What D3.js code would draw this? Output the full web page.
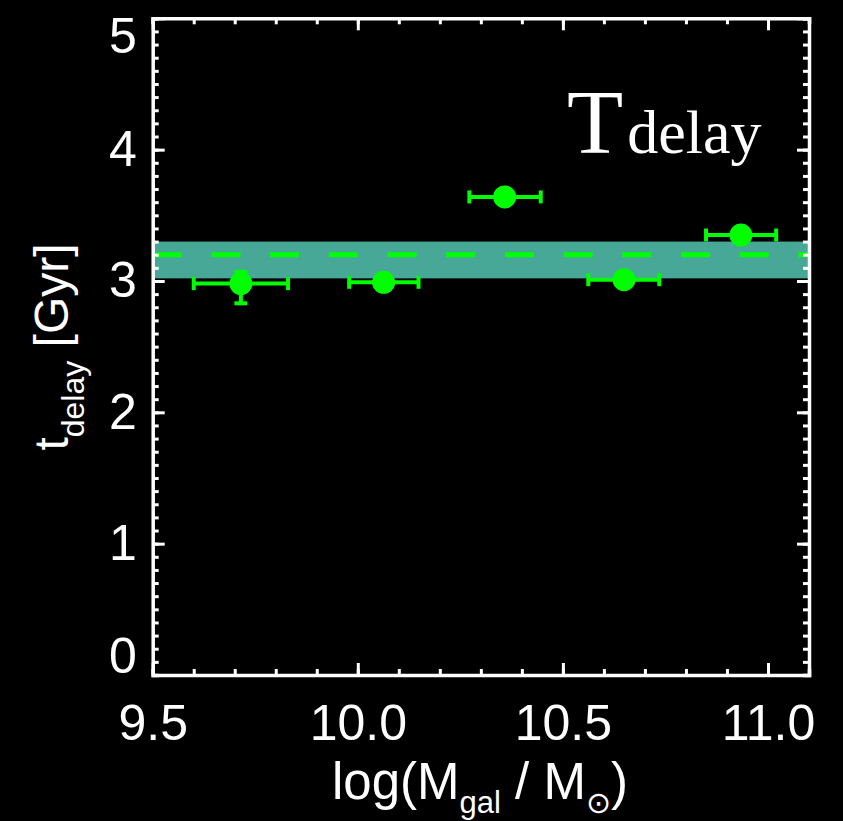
<!DOCTYPE html>
<html>
<head>
<meta charset="utf-8">
<script src="https://cdn.jsdelivr.net/npm/d3@7"></script>
<style>
  body { margin: 0; background: #000; }
  svg { display: block; background: #000; }
  .axis path, .axis line { stroke: #fff; }
  .axis text { fill: #fff; font-family: "Liberation Sans", Arial, sans-serif; font-size: 50px; }
</style>
</head>
<body>
<svg width="843" height="821"></svg>
<script>
/* values */
var mass     = [9.715, 10.063, 10.358, 10.649, 10.934];
var massLo   = [9.600, 9.979, 10.272, 10.562, 10.849];
var massHi   = [9.830, 10.148, 10.446, 10.735, 11.020];
var tdelay   = [2.98, 2.99, 3.64, 3.01, 3.35];
var tLo      = [2.83, 2.95, 3.60, 2.97, 3.31];
var tHi      = [3.07, 3.03, 3.68, 3.05, 3.39];
var bandLo = 3.02, bandHi = 3.30, bandMean = 3.20;
var xTicks = [9.5, 10.0, 10.5, 11.0];
var yTicks = [0, 1, 2, 3, 4, 5];

var svg = d3.select("svg"),
    margin = {top: 18.3, right: 34, bottom: 146, left: 152.7},
    width = +svg.attr("width") - margin.left - margin.right,
    height = +svg.attr("height") - margin.top - margin.bottom;

var x = d3.scaleLinear().domain([9.5, 11.1]).range([0, width]),
    y = d3.scaleLinear().domain([0, 5]).range([height, 0]);

var g = svg.append("g")
    .attr("transform", "translate(" + margin.left + "," + margin.top + ")");

var green = "#00ff00";

/* shaded band + dashed mean line */
g.append("rect")
    .attr("x", 0).attr("width", width)
    .attr("y", y(bandHi)).attr("height", y(bandLo) - y(bandHi))
    .attr("fill", "#47a898");

g.append("line")
    .attr("x1", 0).attr("x2", width)
    .attr("y1", y(bandMean)).attr("y2", y(bandMean))
    .attr("stroke", green).attr("stroke-width", 5)
    .attr("stroke-dasharray", "29,29.7");

/* error bars and points */
var pts = mass.map(function(m, i) {
  return {x: m, lo: massLo[i], hi: massHi[i], y: tdelay[i], ylo: tLo[i], yhi: tHi[i]};
});

var pg = g.selectAll(".pt").data(pts).enter().append("g").attr("class", "pt");
var cap = 6.5;

pg.append("line")
    .attr("x1", function(d) { return x(d.lo); }).attr("x2", function(d) { return x(d.hi); })
    .attr("y1", function(d) { return y(d.y); }).attr("y2", function(d) { return y(d.y); });
pg.append("line")
    .attr("x1", function(d) { return x(d.lo); }).attr("x2", function(d) { return x(d.lo); })
    .attr("y1", function(d) { return y(d.y) - cap; }).attr("y2", function(d) { return y(d.y) + cap; });
pg.append("line")
    .attr("x1", function(d) { return x(d.hi); }).attr("x2", function(d) { return x(d.hi); })
    .attr("y1", function(d) { return y(d.y) - cap; }).attr("y2", function(d) { return y(d.y) + cap; });
pg.append("line")
    .attr("x1", function(d) { return x(d.x); }).attr("x2", function(d) { return x(d.x); })
    .attr("y1", function(d) { return y(d.ylo); }).attr("y2", function(d) { return y(d.yhi); });
pg.append("line")
    .attr("x1", function(d) { return x(d.x) - cap; }).attr("x2", function(d) { return x(d.x) + cap; })
    .attr("y1", function(d) { return y(d.ylo); }).attr("y2", function(d) { return y(d.ylo); });
pg.append("line")
    .attr("x1", function(d) { return x(d.x) - cap; }).attr("x2", function(d) { return x(d.x) + cap; })
    .attr("y1", function(d) { return y(d.yhi); }).attr("y2", function(d) { return y(d.yhi); });
pg.selectAll("line").attr("stroke", green).attr("stroke-width", 4);

pg.append("circle")
    .attr("cx", function(d) { return x(d.x); })
    .attr("cy", function(d) { return y(d.y); })
    .attr("r", 11.5)
    .attr("fill", green);

/* frame: major + minor ticks on all four sides, pointing inward */
var xMinor = d3.range(9.5, 11.1001, 0.1).map(function(v) { return +v.toFixed(1); });
var yMinor = d3.range(0, 5.0001, 0.1).map(function(v) { return +v.toFixed(1); });

function frameAxis(axis, scale, major, minor, tr, labels) {
  var a = g.append("g").attr("class", "axis").attr("transform", tr);
  a.call(axis(scale).tickValues(minor).tickSize(-6).tickFormat(""));
  a.append("g").call(axis(scale).tickValues(major).tickSize(-12).tickPadding(labels ? labels : 0)
      .tickFormat(labels ? d3.format(scale === x ? ".1f" : "d") : ""));
  a.selectAll("path").attr("stroke-width", 3.5);
  a.selectAll("line").attr("stroke-width", 3);
  a.selectAll("path").filter(function() { return this.parentNode !== a.node(); }).remove();
  return a;
}

frameAxis(d3.axisBottom, x, xTicks, xMinor, "translate(0," + height + ")", 29);
frameAxis(d3.axisTop, x, xTicks, xMinor, "translate(0,0)", 0);
var ya = frameAxis(d3.axisLeft, y, yTicks, yMinor, "translate(0,0)", 16);
frameAxis(d3.axisRight, y, yTicks, yMinor, "translate(" + width + ",0)", 0);

/* end labels on y pulled inward */
ya.selectAll("text").attr("dy", function(d) {
  return d === 0 ? "-0.05em" : d === 5 ? "0.68em" : "0.32em";
});

/* panel label */
var lab = g.append("text")
    .attr("x", 567 - margin.left).attr("y", 135)
    .attr("fill", "#fff")
    .style("font-family", "'Liberation Serif', 'Times New Roman', serif");
lab.append("tspan").style("font-size", "92px").text("T");
lab.append("tspan").attr("dx", 4).style("font-size", "62px").text("delay");

/* axis titles */
var xt = svg.append("text")
    .attr("x", 480).attr("y", 799)
    .attr("text-anchor", "middle")
    .attr("fill", "#fff")
    .style("font-family", "'Liberation Sans', Arial, sans-serif")
    .style("font-size", "51px");
xt.append("tspan").text("log(M");
xt.append("tspan").attr("dy", 14).style("font-size", "31px").text("gal");
xt.append("tspan").attr("dy", -14).text(" / M");
xt.append("tspan").attr("dy", 14).style("font-size", "30px")
    .style("font-family", "'DejaVu Sans', sans-serif").text("\u2299");
xt.append("tspan").attr("dy", -14).text(")");

var yt = svg.append("text")
    .attr("transform", "translate(68,347) rotate(-90)")
    .attr("text-anchor", "middle")
    .attr("fill", "#fff")
    .style("font-family", "'Liberation Sans', Arial, sans-serif")
    .style("font-size", "48px");
yt.append("tspan").text("t");
yt.append("tspan").attr("dy", 16).style("font-size", "32px").text("delay");
yt.append("tspan").attr("dy", -16).text(" [Gyr]");
</script>
</body>
</html>
